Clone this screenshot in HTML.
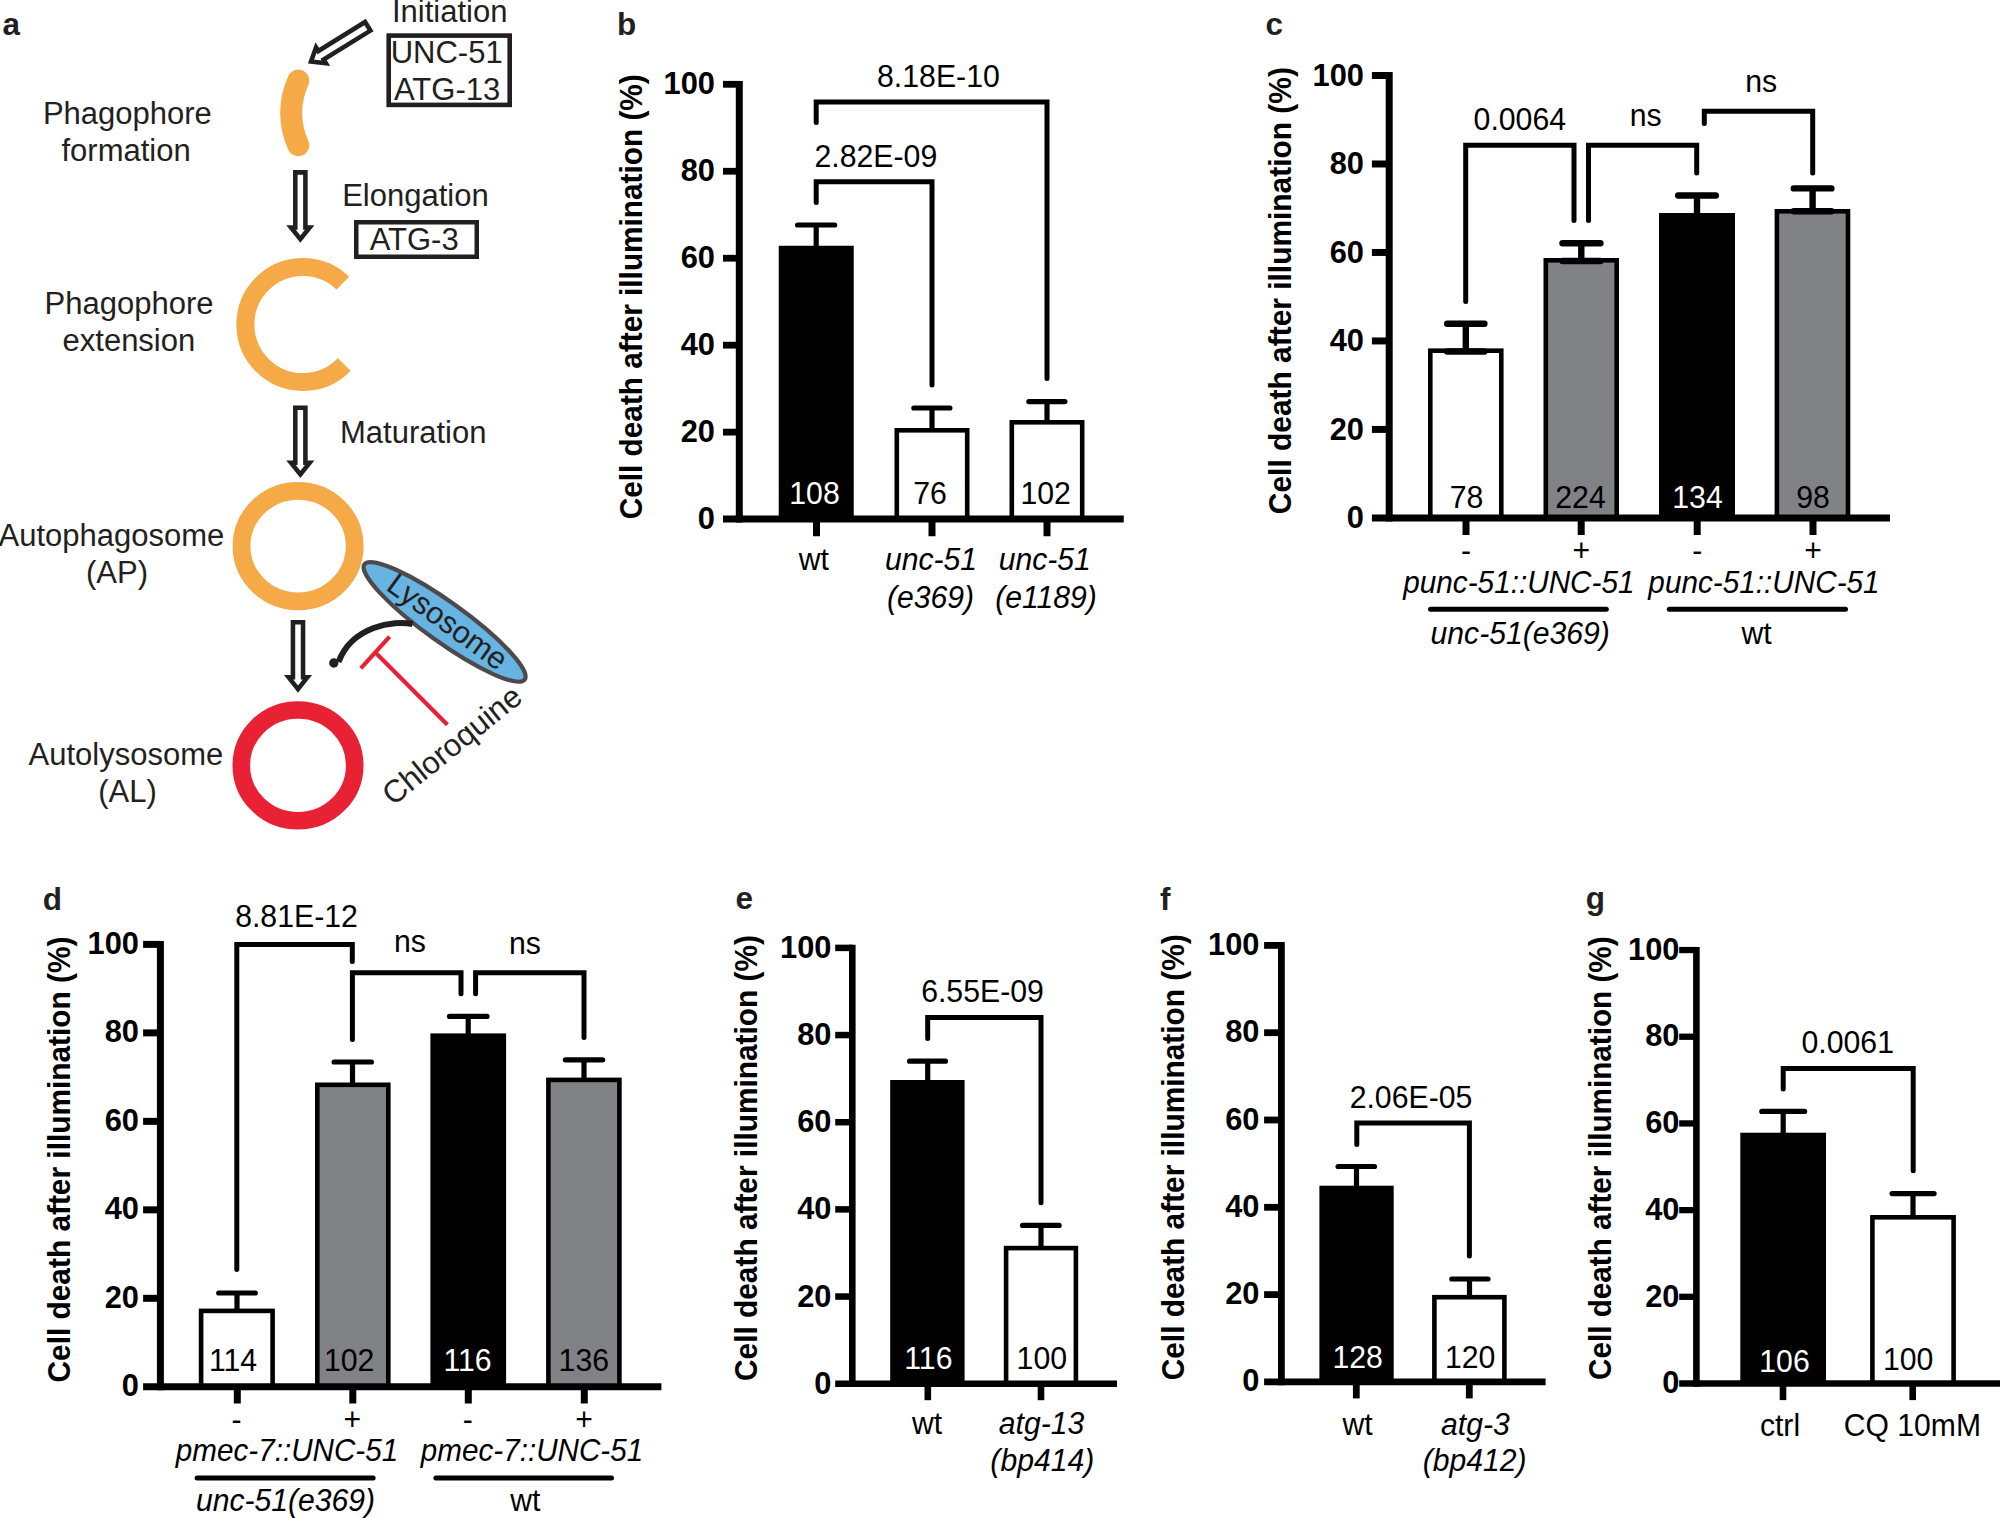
<!DOCTYPE html>
<html lang="en"><head><meta charset="utf-8"><title>Autophagy and cell death after illumination</title>
<style>html,body{margin:0;padding:0;background:#fff}body{width:2000px;height:1518px;overflow:hidden}svg{display:block}text{font-family:'Liberation Sans', Arial, Helvetica, sans-serif}</style>
</head><body>
<svg width="2000" height="1518" viewBox="0 0 2000 1518">
<rect width="2000" height="1518" fill="#fff"/>
<g id="panel-a">
<text x="2.5" y="35.4" font-size="31.5" text-anchor="start" fill="#231f20" font-weight="bold">a</text>
<text x="449.7" y="22.2" font-size="31" text-anchor="middle" fill="#231f20">Initiation</text>
<rect x="388.7" y="35.6" width="121" height="69.3" fill="none" stroke="#231f20" stroke-width="4.6"/>
<text x="446.7" y="63" font-size="31" text-anchor="middle" fill="#231f20">UNC-51</text>
<text x="447.1" y="99.7" font-size="31" text-anchor="middle" fill="#231f20">ATG-13</text>
<path d="M-5.05 2.28H5.05V57.33H9.35L0 69.05L-9.35 57.33H-5.05Z" transform="translate(369.7 25.1) rotate(58.2)" fill="#fff" stroke="#231f20" stroke-width="4.56" stroke-linejoin="miter" stroke-miterlimit="10"/>
<path d="M298.3 80.6A77 77 0 0 0 298.3 145.2" fill="none" stroke="#f5a947" stroke-width="22" stroke-linecap="round"/>
<text x="127.4" y="124" font-size="31" text-anchor="middle" fill="#231f20">Phagophore</text>
<text x="126.1" y="161" font-size="31" text-anchor="middle" fill="#231f20">formation</text>
<path d="M-5.05 2.28H5.05V57.33H9.35L0 69.05L-9.35 57.33H-5.05Z" transform="translate(300.35 170.1) rotate(0)" fill="#fff" stroke="#231f20" stroke-width="4.56" stroke-linejoin="miter" stroke-miterlimit="10"/>
<text x="415.4" y="205.7" font-size="31" text-anchor="middle" fill="#231f20">Elongation</text>
<rect x="356.25" y="222.25" width="120.5" height="34.5" fill="none" stroke="#231f20" stroke-width="4.5"/>
<text x="414.2" y="249.7" font-size="31" text-anchor="middle" fill="#231f20">ATG-3</text>
<path d="M342.84 283.14A57.5 57.5 0 1 0 344.26 364.44" fill="none" stroke="#f5a947" stroke-width="18"/>
<text x="129" y="314" font-size="31" text-anchor="middle" fill="#231f20">Phagophore</text>
<text x="128.9" y="350.8" font-size="31" text-anchor="middle" fill="#231f20">extension</text>
<path d="M-5.05 2.28H5.05V57.33H9.35L0 69.05L-9.35 57.33H-5.05Z" transform="translate(300.35 405.4) rotate(0)" fill="#fff" stroke="#231f20" stroke-width="4.56" stroke-linejoin="miter" stroke-miterlimit="10"/>
<text x="413.25" y="442.65" font-size="31" text-anchor="middle" fill="#231f20">Maturation</text>
<ellipse cx="298.1" cy="546.1" rx="56.6" ry="55.2" fill="none" stroke="#f5a947" stroke-width="17.8"/>
<text x="111.4" y="545.8" font-size="31" text-anchor="middle" fill="#231f20">Autophagosome</text>
<text x="117" y="582.6" font-size="31" text-anchor="middle" fill="#231f20">(AP)</text>
<path d="M-5.05 2.28H5.05V57.33H9.35L0 69.05L-9.35 57.33H-5.05Z" transform="translate(298 620) rotate(0)" fill="#fff" stroke="#231f20" stroke-width="4.56" stroke-linejoin="miter" stroke-miterlimit="10"/>
<ellipse cx="298" cy="765.4" rx="56.7" ry="55.4" fill="none" stroke="#e82234" stroke-width="17.6"/>
<text x="125.9" y="765.3" font-size="31" text-anchor="middle" fill="#231f20">Autolysosome</text>
<text x="127.5" y="802" font-size="31" text-anchor="middle" fill="#231f20">(AL)</text>
<ellipse cx="0" cy="0" rx="98.7" ry="19.9" transform="translate(444.6 621.9) rotate(35.7)" fill="#67b3e2" stroke="#4d4a4d" stroke-width="4.2"/>
<text transform="translate(384.7 589) rotate(36)" font-size="31" fill="#231f20">Lysosome</text>
<path d="M412.6 624C394 620 352 626 338.5 662" fill="none" stroke="#231f20" stroke-width="6" stroke-linecap="butt"/>
<circle cx="333.8" cy="663" r="4.7" fill="#231f20"/>
<line x1="360.8" y1="668.4" x2="389.6" y2="636.6" stroke="#e82234" stroke-width="4.2" stroke-linecap="butt"/>
<line x1="376.4" y1="653.4" x2="447.4" y2="724.7" stroke="#e82234" stroke-width="4.2" stroke-linecap="butt"/>
<text transform="translate(393 806.5) rotate(-39)" font-size="31.3" fill="#231f20">Chloroquine</text>
</g>
<g id="panel-b">
<text x="617" y="34.9" font-size="31.5" text-anchor="start" fill="#231f20" font-weight="bold">b</text>
<rect x="778.75" y="245.75" width="75" height="273.35" fill="#000"/>
<rect x="896.8" y="430.3" width="70.4" height="88.8" fill="#fff" stroke="#000" stroke-width="4.6"/>
<rect x="1011.8" y="422.3" width="70.4" height="96.8" fill="#fff" stroke="#000" stroke-width="4.6"/>
<line x1="816.2" y1="225" x2="816.2" y2="247" stroke="#000" stroke-width="5.2" stroke-linecap="butt"/>
<line x1="797.6" y1="225" x2="834.7" y2="225" stroke="#000" stroke-width="5.2" stroke-linecap="round"/>
<line x1="932" y1="408" x2="932" y2="430" stroke="#000" stroke-width="5.2" stroke-linecap="butt"/>
<line x1="913.85" y1="408" x2="949.9" y2="408" stroke="#000" stroke-width="5.2" stroke-linecap="round"/>
<line x1="1047" y1="401.6" x2="1047" y2="422" stroke="#000" stroke-width="5.2" stroke-linecap="butt"/>
<line x1="1028.85" y1="401.6" x2="1064.9" y2="401.6" stroke="#000" stroke-width="5.2" stroke-linecap="round"/>
<line x1="739.3" y1="80.9" x2="739.3" y2="522.6" stroke="#000" stroke-width="7" stroke-linecap="butt"/>
<line x1="723" y1="84.3" x2="739.3" y2="84.3" stroke="#000" stroke-width="6.8" stroke-linecap="butt"/>
<line x1="723" y1="171.26" x2="739.3" y2="171.26" stroke="#000" stroke-width="6.8" stroke-linecap="butt"/>
<line x1="723" y1="258.22" x2="739.3" y2="258.22" stroke="#000" stroke-width="6.8" stroke-linecap="butt"/>
<line x1="723" y1="345.18" x2="739.3" y2="345.18" stroke="#000" stroke-width="6.8" stroke-linecap="butt"/>
<line x1="723" y1="432.14" x2="739.3" y2="432.14" stroke="#000" stroke-width="6.8" stroke-linecap="butt"/>
<line x1="723" y1="519.1" x2="1123.75" y2="519.1" stroke="#000" stroke-width="7" stroke-linecap="butt"/>
<line x1="816.5" y1="519.1" x2="816.5" y2="536.25" stroke="#000" stroke-width="7" stroke-linecap="butt"/>
<line x1="932" y1="519.1" x2="932" y2="536.25" stroke="#000" stroke-width="7" stroke-linecap="butt"/>
<line x1="1047" y1="519.1" x2="1047" y2="536.25" stroke="#000" stroke-width="7" stroke-linecap="butt"/>
<text transform="translate(715 93.9) scale(0.976 1)" font-size="31.6" text-anchor="end" fill="#000" font-weight="bold">100</text>
<text transform="translate(715 180.86) scale(0.976 1)" font-size="31.6" text-anchor="end" fill="#000" font-weight="bold">80</text>
<text transform="translate(715 267.82) scale(0.976 1)" font-size="31.6" text-anchor="end" fill="#000" font-weight="bold">60</text>
<text transform="translate(715 354.78) scale(0.976 1)" font-size="31.6" text-anchor="end" fill="#000" font-weight="bold">40</text>
<text transform="translate(715 441.74) scale(0.976 1)" font-size="31.6" text-anchor="end" fill="#000" font-weight="bold">20</text>
<text transform="translate(715 528.7) scale(0.976 1)" font-size="31.6" text-anchor="end" fill="#000" font-weight="bold">0</text>
<text transform="translate(642.2 296.8) rotate(-90)" font-size="30.6" font-weight="bold" text-anchor="middle" fill="#000" textLength="445" lengthAdjust="spacingAndGlyphs">Cell death after illumination (%)</text>
<path d="M816.2 202.5V181.8H932V385" fill="none" stroke="#000" stroke-width="5" stroke-linecap="round" stroke-linejoin="miter"/>
<path d="M816.2 122.5V102H1047V378.5" fill="none" stroke="#000" stroke-width="5" stroke-linecap="round" stroke-linejoin="miter"/>
<text transform="translate(938.4 87) scale(0.945 1)" font-size="32" text-anchor="middle" fill="#000">8.18E-10</text>
<text transform="translate(875.85 166.5) scale(0.945 1)" font-size="32" text-anchor="middle" fill="#000">2.82E-09</text>
<text transform="translate(814.5 503.75) scale(0.945 1)" font-size="32" text-anchor="middle" fill="#fff">108</text>
<text transform="translate(930 503.75) scale(0.945 1)" font-size="32" text-anchor="middle" fill="#000">76</text>
<text transform="translate(1045.6 503.75) scale(0.945 1)" font-size="32" text-anchor="middle" fill="#000">102</text>
<text transform="translate(813.75 570) scale(0.985 1)" font-size="30.6" text-anchor="middle" fill="#000">wt</text>
<text transform="translate(931 570) scale(0.985 1)" font-size="30.6" text-anchor="middle" fill="#000" font-style="italic">unc-51</text>
<text transform="translate(930.6 607.5) scale(0.985 1)" font-size="30.6" text-anchor="middle" fill="#000" font-style="italic">(e369)</text>
<text transform="translate(1044.75 570) scale(0.985 1)" font-size="30.6" text-anchor="middle" fill="#000" font-style="italic">unc-51</text>
<text transform="translate(1046 607.5) scale(0.985 1)" font-size="30.6" text-anchor="middle" fill="#000" font-style="italic">(e1189)</text>
</g>
<g id="panel-c">
<text x="1265.5" y="35.4" font-size="31.5" text-anchor="start" fill="#231f20" font-weight="bold">c</text>
<rect x="1430.3" y="350.7" width="71" height="167.2" fill="#fff" stroke="#000" stroke-width="4.6"/>
<rect x="1545.8" y="260.3" width="70.9" height="257.6" fill="#808285" stroke="#000" stroke-width="4.6"/>
<rect x="1659" y="213" width="76" height="304.9" fill="#000"/>
<rect x="1776.9" y="211.3" width="71.1" height="306.6" fill="#808285" stroke="#000" stroke-width="4.6"/>
<line x1="1465.8" y1="323.8" x2="1465.8" y2="351.5" stroke="#000" stroke-width="6.4" stroke-linecap="butt"/>
<line x1="1447.2" y1="323.8" x2="1484.4" y2="323.8" stroke="#000" stroke-width="6.4" stroke-linecap="round"/>
<line x1="1447.2" y1="351.5" x2="1484.4" y2="351.5" stroke="#000" stroke-width="6.4" stroke-linecap="round"/>
<line x1="1581.3" y1="243.2" x2="1581.3" y2="261" stroke="#000" stroke-width="6.4" stroke-linecap="butt"/>
<line x1="1562.5" y1="243.2" x2="1600.4" y2="243.2" stroke="#000" stroke-width="6.4" stroke-linecap="round"/>
<line x1="1562.5" y1="261" x2="1600.4" y2="261" stroke="#000" stroke-width="6.4" stroke-linecap="round"/>
<line x1="1697" y1="195.5" x2="1697" y2="215" stroke="#000" stroke-width="6.4" stroke-linecap="butt"/>
<line x1="1678.2" y1="195.5" x2="1715.8" y2="195.5" stroke="#000" stroke-width="6.4" stroke-linecap="round"/>
<line x1="1812.6" y1="188.4" x2="1812.6" y2="211.2" stroke="#000" stroke-width="6.4" stroke-linecap="butt"/>
<line x1="1793.8" y1="188.4" x2="1831.4" y2="188.4" stroke="#000" stroke-width="6.4" stroke-linecap="round"/>
<line x1="1793.8" y1="211.2" x2="1831.4" y2="211.2" stroke="#000" stroke-width="6.4" stroke-linecap="round"/>
<line x1="1389.2" y1="72" x2="1389.2" y2="521.4" stroke="#000" stroke-width="7" stroke-linecap="butt"/>
<line x1="1371.9" y1="75.5" x2="1389.2" y2="75.5" stroke="#000" stroke-width="7" stroke-linecap="butt"/>
<line x1="1371.9" y1="163.98" x2="1389.2" y2="163.98" stroke="#000" stroke-width="7" stroke-linecap="butt"/>
<line x1="1371.9" y1="252.46" x2="1389.2" y2="252.46" stroke="#000" stroke-width="7" stroke-linecap="butt"/>
<line x1="1371.9" y1="340.94" x2="1389.2" y2="340.94" stroke="#000" stroke-width="7" stroke-linecap="butt"/>
<line x1="1371.9" y1="429.42" x2="1389.2" y2="429.42" stroke="#000" stroke-width="7" stroke-linecap="butt"/>
<line x1="1371.9" y1="517.9" x2="1890" y2="517.9" stroke="#000" stroke-width="7" stroke-linecap="butt"/>
<line x1="1466" y1="517.9" x2="1466" y2="535" stroke="#000" stroke-width="7" stroke-linecap="butt"/>
<line x1="1581.2" y1="517.9" x2="1581.2" y2="535" stroke="#000" stroke-width="7" stroke-linecap="butt"/>
<line x1="1697.2" y1="517.9" x2="1697.2" y2="535" stroke="#000" stroke-width="7" stroke-linecap="butt"/>
<line x1="1813" y1="517.9" x2="1813" y2="535" stroke="#000" stroke-width="7" stroke-linecap="butt"/>
<text transform="translate(1364 86) scale(0.976 1)" font-size="31.6" text-anchor="end" fill="#000" font-weight="bold">100</text>
<text transform="translate(1364 174.48) scale(0.976 1)" font-size="31.6" text-anchor="end" fill="#000" font-weight="bold">80</text>
<text transform="translate(1364 262.96) scale(0.976 1)" font-size="31.6" text-anchor="end" fill="#000" font-weight="bold">60</text>
<text transform="translate(1364 351.44) scale(0.976 1)" font-size="31.6" text-anchor="end" fill="#000" font-weight="bold">40</text>
<text transform="translate(1364 439.92) scale(0.976 1)" font-size="31.6" text-anchor="end" fill="#000" font-weight="bold">20</text>
<text transform="translate(1364 528.4) scale(0.976 1)" font-size="31.6" text-anchor="end" fill="#000" font-weight="bold">0</text>
<text transform="translate(1291.3 290.65) rotate(-90)" font-size="30.6" font-weight="bold" text-anchor="middle" fill="#000" textLength="447" lengthAdjust="spacingAndGlyphs">Cell death after illumination (%)</text>
<path d="M1465.7 301.5V145.3H1574V220.5" fill="none" stroke="#000" stroke-width="5" stroke-linecap="round" stroke-linejoin="miter"/>
<path d="M1588.5 220.5V145.3H1696.7V173.1" fill="none" stroke="#000" stroke-width="5" stroke-linecap="round" stroke-linejoin="miter"/>
<path d="M1704.3 123.5V111.3H1812.7V173.1" fill="none" stroke="#000" stroke-width="5" stroke-linecap="round" stroke-linejoin="miter"/>
<text transform="translate(1519.8 130) scale(0.945 1)" font-size="32" text-anchor="middle" fill="#000">0.0064</text>
<text transform="translate(1645.7 126) scale(0.945 1)" font-size="32" text-anchor="middle" fill="#000">ns</text>
<text transform="translate(1761.2 92) scale(0.945 1)" font-size="32" text-anchor="middle" fill="#000">ns</text>
<text transform="translate(1466.5 507.6) scale(0.945 1)" font-size="32" text-anchor="middle" fill="#000">78</text>
<text transform="translate(1580.5 507.6) scale(0.945 1)" font-size="32" text-anchor="middle" fill="#000">224</text>
<text transform="translate(1697.5 507.6) scale(0.945 1)" font-size="32" text-anchor="middle" fill="#fff">134</text>
<text transform="translate(1813 507.6) scale(0.945 1)" font-size="32" text-anchor="middle" fill="#000">98</text>
<text transform="translate(1466 561) scale(0.985 1)" font-size="30.6" text-anchor="middle" fill="#000">-</text>
<text transform="translate(1581.2 561) scale(0.985 1)" font-size="30.6" text-anchor="middle" fill="#000">+</text>
<text transform="translate(1697.2 561) scale(0.985 1)" font-size="30.6" text-anchor="middle" fill="#000">-</text>
<text transform="translate(1813 561) scale(0.985 1)" font-size="30.6" text-anchor="middle" fill="#000">+</text>
<text transform="translate(1518.9 592.8) scale(0.972 1)" font-size="30.6" text-anchor="middle" fill="#000" font-style="italic">punc-51::UNC-51</text>
<text transform="translate(1764 592.8) scale(0.972 1)" font-size="30.6" text-anchor="middle" fill="#000" font-style="italic">punc-51::UNC-51</text>
<text transform="translate(1520.2 643.8) scale(0.985 1)" font-size="30.6" text-anchor="middle" fill="#000" font-style="italic">unc-51(e369)</text>
<text transform="translate(1756.5 643.8) scale(0.985 1)" font-size="30.6" text-anchor="middle" fill="#000">wt</text>
<line x1="1430.5" y1="609.2" x2="1606.3" y2="609.2" stroke="#000" stroke-width="5" stroke-linecap="round"/>
<line x1="1669.3" y1="609.2" x2="1845.5" y2="609.2" stroke="#000" stroke-width="5" stroke-linecap="round"/>
</g>
<g id="panel-d">
<text x="42.8" y="909.7" font-size="31.5" text-anchor="start" fill="#231f20" font-weight="bold">d</text>
<rect x="201.1" y="1310.9" width="71.5" height="75.9" fill="#fff" stroke="#000" stroke-width="4.6"/>
<rect x="317.3" y="1084.8" width="71" height="302" fill="#808285" stroke="#000" stroke-width="4.6"/>
<rect x="430.4" y="1033.4" width="75.7" height="353.4" fill="#000"/>
<rect x="548.4" y="1079.9" width="71" height="306.9" fill="#808285" stroke="#000" stroke-width="4.6"/>
<line x1="237" y1="1293" x2="237" y2="1311" stroke="#000" stroke-width="5.2" stroke-linecap="butt"/>
<line x1="218.7" y1="1293" x2="255.3" y2="1293" stroke="#000" stroke-width="5.2" stroke-linecap="round"/>
<line x1="352.5" y1="1062" x2="352.5" y2="1085" stroke="#000" stroke-width="5.2" stroke-linecap="butt"/>
<line x1="334.1" y1="1062" x2="371.4" y2="1062" stroke="#000" stroke-width="5.2" stroke-linecap="round"/>
<line x1="468.2" y1="1016.4" x2="468.2" y2="1035" stroke="#000" stroke-width="5.2" stroke-linecap="butt"/>
<line x1="449.5" y1="1016.4" x2="487" y2="1016.4" stroke="#000" stroke-width="5.2" stroke-linecap="round"/>
<line x1="584" y1="1059.8" x2="584" y2="1080" stroke="#000" stroke-width="5.2" stroke-linecap="butt"/>
<line x1="565.4" y1="1059.8" x2="602.7" y2="1059.8" stroke="#000" stroke-width="5.2" stroke-linecap="round"/>
<line x1="160.4" y1="940.9" x2="160.4" y2="1390.3" stroke="#000" stroke-width="7" stroke-linecap="butt"/>
<line x1="143.1" y1="944.4" x2="160.4" y2="944.4" stroke="#000" stroke-width="7" stroke-linecap="butt"/>
<line x1="143.1" y1="1032.88" x2="160.4" y2="1032.88" stroke="#000" stroke-width="7" stroke-linecap="butt"/>
<line x1="143.1" y1="1121.36" x2="160.4" y2="1121.36" stroke="#000" stroke-width="7" stroke-linecap="butt"/>
<line x1="143.1" y1="1209.84" x2="160.4" y2="1209.84" stroke="#000" stroke-width="7" stroke-linecap="butt"/>
<line x1="143.1" y1="1298.32" x2="160.4" y2="1298.32" stroke="#000" stroke-width="7" stroke-linecap="butt"/>
<line x1="143.1" y1="1386.8" x2="661.4" y2="1386.8" stroke="#000" stroke-width="7" stroke-linecap="butt"/>
<line x1="237.3" y1="1386.8" x2="237.3" y2="1403.5" stroke="#000" stroke-width="7" stroke-linecap="butt"/>
<line x1="352.8" y1="1386.8" x2="352.8" y2="1403.5" stroke="#000" stroke-width="7" stroke-linecap="butt"/>
<line x1="468.3" y1="1386.8" x2="468.3" y2="1403.5" stroke="#000" stroke-width="7" stroke-linecap="butt"/>
<line x1="584.3" y1="1386.8" x2="584.3" y2="1403.5" stroke="#000" stroke-width="7" stroke-linecap="butt"/>
<text transform="translate(139 954) scale(0.976 1)" font-size="31.6" text-anchor="end" fill="#000" font-weight="bold">100</text>
<text transform="translate(139 1042.48) scale(0.976 1)" font-size="31.6" text-anchor="end" fill="#000" font-weight="bold">80</text>
<text transform="translate(139 1130.96) scale(0.976 1)" font-size="31.6" text-anchor="end" fill="#000" font-weight="bold">60</text>
<text transform="translate(139 1219.44) scale(0.976 1)" font-size="31.6" text-anchor="end" fill="#000" font-weight="bold">40</text>
<text transform="translate(139 1307.92) scale(0.976 1)" font-size="31.6" text-anchor="end" fill="#000" font-weight="bold">20</text>
<text transform="translate(139 1396.4) scale(0.976 1)" font-size="31.6" text-anchor="end" fill="#000" font-weight="bold">0</text>
<text transform="translate(70.2 1159.5) rotate(-90)" font-size="30.6" font-weight="bold" text-anchor="middle" fill="#000" textLength="446" lengthAdjust="spacingAndGlyphs">Cell death after illumination (%)</text>
<path d="M236.8 1269.5V944.5H352.3V961.5" fill="none" stroke="#000" stroke-width="5" stroke-linecap="round" stroke-linejoin="miter"/>
<path d="M352.4 1039.5V972.7H461V993.8" fill="none" stroke="#000" stroke-width="5" stroke-linecap="round" stroke-linejoin="miter"/>
<path d="M475.6 993.8V972.7H584V1037.5" fill="none" stroke="#000" stroke-width="5" stroke-linecap="round" stroke-linejoin="miter"/>
<text transform="translate(296.5 927) scale(0.945 1)" font-size="32" text-anchor="middle" fill="#000">8.81E-12</text>
<text transform="translate(410 952.3) scale(0.945 1)" font-size="32" text-anchor="middle" fill="#000">ns</text>
<text transform="translate(525 954) scale(0.945 1)" font-size="32" text-anchor="middle" fill="#000">ns</text>
<text transform="translate(233 1371) scale(0.945 1)" font-size="32" text-anchor="middle" fill="#000">114</text>
<text transform="translate(349.2 1371) scale(0.945 1)" font-size="32" text-anchor="middle" fill="#000">102</text>
<text transform="translate(467.5 1371) scale(0.945 1)" font-size="32" text-anchor="middle" fill="#fff">116</text>
<text transform="translate(583.8 1371) scale(0.945 1)" font-size="32" text-anchor="middle" fill="#000">136</text>
<text transform="translate(236.6 1429.8) scale(0.985 1)" font-size="30.6" text-anchor="middle" fill="#000">-</text>
<text transform="translate(352.3 1429.8) scale(0.985 1)" font-size="30.6" text-anchor="middle" fill="#000">+</text>
<text transform="translate(467.8 1429.8) scale(0.985 1)" font-size="30.6" text-anchor="middle" fill="#000">-</text>
<text transform="translate(584 1429.8) scale(0.985 1)" font-size="30.6" text-anchor="middle" fill="#000">+</text>
<text transform="translate(287 1461) scale(0.969 1)" font-size="30.6" text-anchor="middle" fill="#000" font-style="italic">pmec-7::UNC-51</text>
<text transform="translate(532 1461) scale(0.969 1)" font-size="30.6" text-anchor="middle" fill="#000" font-style="italic">pmec-7::UNC-51</text>
<text transform="translate(285.5 1510.6) scale(0.985 1)" font-size="30.6" text-anchor="middle" fill="#000" font-style="italic">unc-51(e369)</text>
<text transform="translate(525.3 1510.6) scale(0.985 1)" font-size="30.6" text-anchor="middle" fill="#000">wt</text>
<line x1="197.1" y1="1478" x2="373.1" y2="1478" stroke="#000" stroke-width="5" stroke-linecap="round"/>
<line x1="435.9" y1="1478" x2="611.5" y2="1478" stroke="#000" stroke-width="5" stroke-linecap="round"/>
</g>
<g id="panel-e">
<text x="735.5" y="909.4" font-size="31.5" text-anchor="start" fill="#231f20" font-weight="bold">e</text>
<rect x="890.2" y="1080" width="74.4" height="303.7" fill="#000"/>
<rect x="1006.1" y="1248.1" width="69.8" height="135.6" fill="#fff" stroke="#000" stroke-width="4.6"/>
<line x1="927.7" y1="1061.2" x2="927.7" y2="1082" stroke="#000" stroke-width="5.2" stroke-linecap="butt"/>
<line x1="909.6" y1="1061.2" x2="945.4" y2="1061.2" stroke="#000" stroke-width="5.2" stroke-linecap="round"/>
<line x1="1041" y1="1225.4" x2="1041" y2="1248" stroke="#000" stroke-width="5.2" stroke-linecap="butt"/>
<line x1="1022.6" y1="1225.4" x2="1059.1" y2="1225.4" stroke="#000" stroke-width="5.2" stroke-linecap="round"/>
<line x1="852.3" y1="944.65" x2="852.3" y2="1387" stroke="#000" stroke-width="6.6" stroke-linecap="butt"/>
<line x1="835.2" y1="947.9" x2="852.3" y2="947.9" stroke="#000" stroke-width="6.5" stroke-linecap="butt"/>
<line x1="835.2" y1="1035.06" x2="852.3" y2="1035.06" stroke="#000" stroke-width="6.5" stroke-linecap="butt"/>
<line x1="835.2" y1="1122.22" x2="852.3" y2="1122.22" stroke="#000" stroke-width="6.5" stroke-linecap="butt"/>
<line x1="835.2" y1="1209.38" x2="852.3" y2="1209.38" stroke="#000" stroke-width="6.5" stroke-linecap="butt"/>
<line x1="835.2" y1="1296.54" x2="852.3" y2="1296.54" stroke="#000" stroke-width="6.5" stroke-linecap="butt"/>
<line x1="835.2" y1="1383.7" x2="1117" y2="1383.7" stroke="#000" stroke-width="6.6" stroke-linecap="butt"/>
<line x1="927.8" y1="1383.7" x2="927.8" y2="1400.2" stroke="#000" stroke-width="6.6" stroke-linecap="butt"/>
<line x1="1041" y1="1383.7" x2="1041" y2="1400.2" stroke="#000" stroke-width="6.6" stroke-linecap="butt"/>
<text transform="translate(831.5 957.9) scale(0.976 1)" font-size="31.6" text-anchor="end" fill="#000" font-weight="bold">100</text>
<text transform="translate(831.5 1045.06) scale(0.976 1)" font-size="31.6" text-anchor="end" fill="#000" font-weight="bold">80</text>
<text transform="translate(831.5 1132.22) scale(0.976 1)" font-size="31.6" text-anchor="end" fill="#000" font-weight="bold">60</text>
<text transform="translate(831.5 1219.38) scale(0.976 1)" font-size="31.6" text-anchor="end" fill="#000" font-weight="bold">40</text>
<text transform="translate(831.5 1306.54) scale(0.976 1)" font-size="31.6" text-anchor="end" fill="#000" font-weight="bold">20</text>
<text transform="translate(831.5 1393.7) scale(0.976 1)" font-size="31.6" text-anchor="end" fill="#000" font-weight="bold">0</text>
<text transform="translate(757.2 1158) rotate(-90)" font-size="30.6" font-weight="bold" text-anchor="middle" fill="#000" textLength="446" lengthAdjust="spacingAndGlyphs">Cell death after illumination (%)</text>
<path d="M927.7 1038.5V1017.5H1041V1202.8" fill="none" stroke="#000" stroke-width="5" stroke-linecap="round" stroke-linejoin="miter"/>
<text transform="translate(982.5 1002) scale(0.945 1)" font-size="32" text-anchor="middle" fill="#000">6.55E-09</text>
<text transform="translate(928.4 1369.4) scale(0.945 1)" font-size="32" text-anchor="middle" fill="#fff">116</text>
<text transform="translate(1041.8 1369.4) scale(0.945 1)" font-size="32" text-anchor="middle" fill="#000">100</text>
<text transform="translate(927 1434.1) scale(0.985 1)" font-size="30.6" text-anchor="middle" fill="#000">wt</text>
<text transform="translate(1041.5 1434.1) scale(0.985 1)" font-size="30.6" text-anchor="middle" fill="#000" font-style="italic">atg-13</text>
<text transform="translate(1042.3 1471.2) scale(0.985 1)" font-size="30.6" text-anchor="middle" fill="#000" font-style="italic">(bp414)</text>
</g>
<g id="panel-f">
<text x="1160" y="910" font-size="31.5" text-anchor="start" fill="#231f20" font-weight="bold">f</text>
<rect x="1319.4" y="1185.7" width="74.3" height="196.2" fill="#000"/>
<rect x="1434.4" y="1297.2" width="70" height="84.7" fill="#fff" stroke="#000" stroke-width="4.6"/>
<line x1="1356.5" y1="1166.5" x2="1356.5" y2="1188" stroke="#000" stroke-width="5.2" stroke-linecap="butt"/>
<line x1="1338.1" y1="1166.5" x2="1374.5" y2="1166.5" stroke="#000" stroke-width="5.2" stroke-linecap="round"/>
<line x1="1469.5" y1="1279" x2="1469.5" y2="1297" stroke="#000" stroke-width="5.2" stroke-linecap="butt"/>
<line x1="1451.8" y1="1279" x2="1488" y2="1279" stroke="#000" stroke-width="5.2" stroke-linecap="round"/>
<line x1="1281.4" y1="942" x2="1281.4" y2="1385.3" stroke="#000" stroke-width="6.8" stroke-linecap="butt"/>
<line x1="1264.1" y1="945.4" x2="1281.4" y2="945.4" stroke="#000" stroke-width="6.8" stroke-linecap="butt"/>
<line x1="1264.1" y1="1032.7" x2="1281.4" y2="1032.7" stroke="#000" stroke-width="6.8" stroke-linecap="butt"/>
<line x1="1264.1" y1="1120" x2="1281.4" y2="1120" stroke="#000" stroke-width="6.8" stroke-linecap="butt"/>
<line x1="1264.1" y1="1207.3" x2="1281.4" y2="1207.3" stroke="#000" stroke-width="6.8" stroke-linecap="butt"/>
<line x1="1264.1" y1="1294.6" x2="1281.4" y2="1294.6" stroke="#000" stroke-width="6.8" stroke-linecap="butt"/>
<line x1="1264.1" y1="1381.9" x2="1545.6" y2="1381.9" stroke="#000" stroke-width="6.8" stroke-linecap="butt"/>
<line x1="1356.3" y1="1381.9" x2="1356.3" y2="1398.4" stroke="#000" stroke-width="6.8" stroke-linecap="butt"/>
<line x1="1469.3" y1="1381.9" x2="1469.3" y2="1398.4" stroke="#000" stroke-width="6.8" stroke-linecap="butt"/>
<text transform="translate(1259.5 954.9) scale(0.976 1)" font-size="31.6" text-anchor="end" fill="#000" font-weight="bold">100</text>
<text transform="translate(1259.5 1042.2) scale(0.976 1)" font-size="31.6" text-anchor="end" fill="#000" font-weight="bold">80</text>
<text transform="translate(1259.5 1129.5) scale(0.976 1)" font-size="31.6" text-anchor="end" fill="#000" font-weight="bold">60</text>
<text transform="translate(1259.5 1216.8) scale(0.976 1)" font-size="31.6" text-anchor="end" fill="#000" font-weight="bold">40</text>
<text transform="translate(1259.5 1304.1) scale(0.976 1)" font-size="31.6" text-anchor="end" fill="#000" font-weight="bold">20</text>
<text transform="translate(1259.5 1391.4) scale(0.976 1)" font-size="31.6" text-anchor="end" fill="#000" font-weight="bold">0</text>
<text transform="translate(1183.9 1157.3) rotate(-90)" font-size="30.6" font-weight="bold" text-anchor="middle" fill="#000" textLength="446" lengthAdjust="spacingAndGlyphs">Cell death after illumination (%)</text>
<path d="M1356.8 1144.5V1123H1469.4V1256.1" fill="none" stroke="#000" stroke-width="5" stroke-linecap="round" stroke-linejoin="miter"/>
<text transform="translate(1411 1108) scale(0.945 1)" font-size="32" text-anchor="middle" fill="#000">2.06E-05</text>
<text transform="translate(1357.7 1367.7) scale(0.945 1)" font-size="32" text-anchor="middle" fill="#fff">128</text>
<text transform="translate(1470.2 1367.7) scale(0.945 1)" font-size="32" text-anchor="middle" fill="#000">120</text>
<text transform="translate(1357.5 1434.7) scale(0.985 1)" font-size="30.6" text-anchor="middle" fill="#000">wt</text>
<text transform="translate(1475.4 1434.7) scale(0.985 1)" font-size="30.6" text-anchor="middle" fill="#000" font-style="italic">atg-3</text>
<text transform="translate(1474.7 1471.2) scale(0.985 1)" font-size="30.6" text-anchor="middle" fill="#000" font-style="italic">(bp412)</text>
</g>
<g id="panel-g">
<text x="1585.7" y="909.1" font-size="31.5" text-anchor="start" fill="#231f20" font-weight="bold">g</text>
<rect x="1740.3" y="1132.7" width="85.7" height="250.8" fill="#000"/>
<rect x="1872.4" y="1217.3" width="81.2" height="166.2" fill="#fff" stroke="#000" stroke-width="4.6"/>
<line x1="1783.2" y1="1111.4" x2="1783.2" y2="1135" stroke="#000" stroke-width="5.2" stroke-linecap="butt"/>
<line x1="1761.8" y1="1111.4" x2="1804.6" y2="1111.4" stroke="#000" stroke-width="5.2" stroke-linecap="round"/>
<line x1="1913" y1="1193.6" x2="1913" y2="1217" stroke="#000" stroke-width="5.2" stroke-linecap="butt"/>
<line x1="1892.1" y1="1193.6" x2="1934.1" y2="1193.6" stroke="#000" stroke-width="5.2" stroke-linecap="round"/>
<line x1="1696.4" y1="946.9" x2="1696.4" y2="1386.8" stroke="#000" stroke-width="6.6" stroke-linecap="butt"/>
<line x1="1679.2" y1="950.05" x2="1696.4" y2="950.05" stroke="#000" stroke-width="6.3" stroke-linecap="butt"/>
<line x1="1679.2" y1="1036.74" x2="1696.4" y2="1036.74" stroke="#000" stroke-width="6.3" stroke-linecap="butt"/>
<line x1="1679.2" y1="1123.43" x2="1696.4" y2="1123.43" stroke="#000" stroke-width="6.3" stroke-linecap="butt"/>
<line x1="1679.2" y1="1210.12" x2="1696.4" y2="1210.12" stroke="#000" stroke-width="6.3" stroke-linecap="butt"/>
<line x1="1679.2" y1="1296.81" x2="1696.4" y2="1296.81" stroke="#000" stroke-width="6.3" stroke-linecap="butt"/>
<line x1="1679.2" y1="1383.5" x2="2000" y2="1383.5" stroke="#000" stroke-width="6.6" stroke-linecap="butt"/>
<line x1="1783" y1="1383.5" x2="1783" y2="1400.1" stroke="#000" stroke-width="6.6" stroke-linecap="butt"/>
<line x1="1912.7" y1="1383.5" x2="1912.7" y2="1400.1" stroke="#000" stroke-width="6.6" stroke-linecap="butt"/>
<text transform="translate(1679.5 959.8) scale(0.976 1)" font-size="31.6" text-anchor="end" fill="#000" font-weight="bold">100</text>
<text transform="translate(1679.5 1046.49) scale(0.976 1)" font-size="31.6" text-anchor="end" fill="#000" font-weight="bold">80</text>
<text transform="translate(1679.5 1133.18) scale(0.976 1)" font-size="31.6" text-anchor="end" fill="#000" font-weight="bold">60</text>
<text transform="translate(1679.5 1219.87) scale(0.976 1)" font-size="31.6" text-anchor="end" fill="#000" font-weight="bold">40</text>
<text transform="translate(1679.5 1306.56) scale(0.976 1)" font-size="31.6" text-anchor="end" fill="#000" font-weight="bold">20</text>
<text transform="translate(1679.5 1393.25) scale(0.976 1)" font-size="31.6" text-anchor="end" fill="#000" font-weight="bold">0</text>
<text transform="translate(1611.2 1158.2) rotate(-90)" font-size="30.6" font-weight="bold" text-anchor="middle" fill="#000" textLength="443.5" lengthAdjust="spacingAndGlyphs">Cell death after illumination (%)</text>
<path d="M1783.2 1089V1068.6H1913.2V1170.7" fill="none" stroke="#000" stroke-width="5" stroke-linecap="round" stroke-linejoin="miter"/>
<text transform="translate(1847.7 1053.4) scale(0.945 1)" font-size="32" text-anchor="middle" fill="#000">0.0061</text>
<text transform="translate(1784.5 1371.8) scale(0.945 1)" font-size="32" text-anchor="middle" fill="#fff">106</text>
<text transform="translate(1908.1 1370.1) scale(0.945 1)" font-size="32" text-anchor="middle" fill="#000">100</text>
<text transform="translate(1780 1435.5) scale(0.985 1)" font-size="30.6" text-anchor="middle" fill="#000">ctrl</text>
<text transform="translate(1912.4 1435.5) scale(0.985 1)" font-size="30.6" text-anchor="middle" fill="#000">CQ 10mM</text>
</g>
</svg></body></html>
